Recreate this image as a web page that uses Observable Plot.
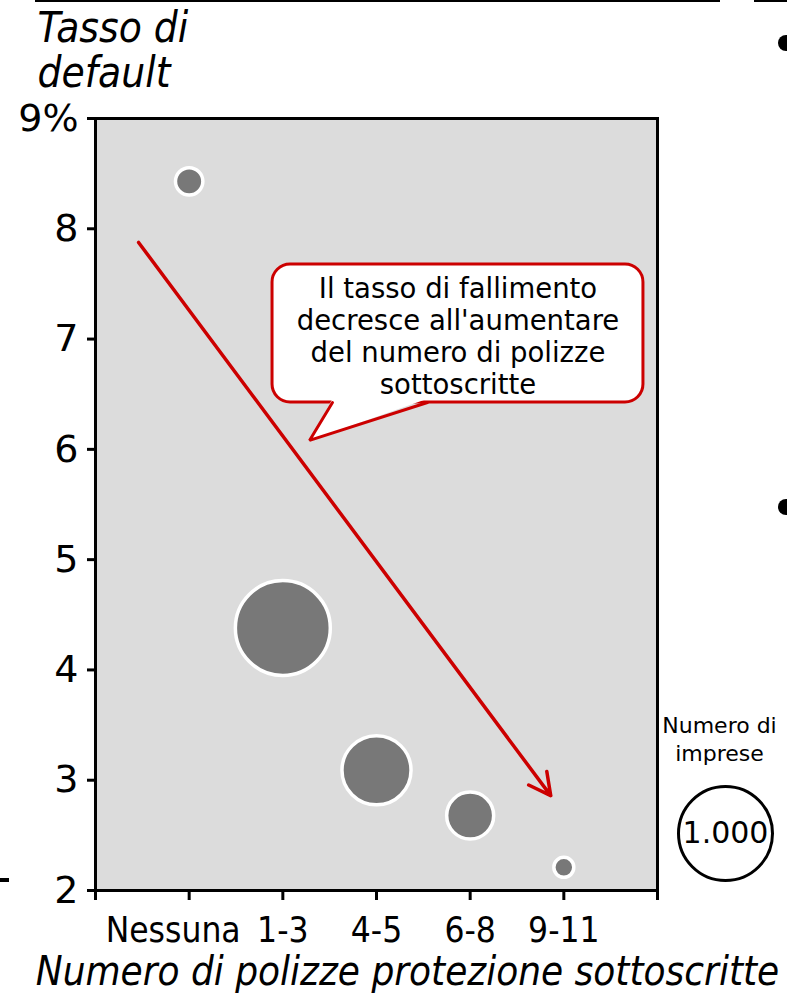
<!DOCTYPE html>
<html lang="it">
<head>
<meta charset="utf-8">
<script src="https://cdn.jsdelivr.net/npm/d3@7"></script>
<script src="https://cdn.jsdelivr.net/npm/@observablehq/plot@0.6"></script>
<style>
  html, body { margin: 0; padding: 0; background: #fff; }
  #page { position: relative; width: 787px; height: 994px; overflow: hidden; }
  #chart { position: absolute; left: 0; top: 0; }
  .rule { position: absolute; top: 0; height: 2px; background: #000; }
  .bullet { position: absolute; width: 16px; height: 16px; border-radius: 50%; background: #000; }
  .dash { position: absolute; left: 0; top: 878px; width: 9px; height: 4px; background: #000; }
  #chart svg g[aria-label="x-axis tick label"] text {
    font-family: "DejaVu Sans Condensed", "DejaVu Sans", sans-serif;
    font-stretch: condensed;
    font-size: 35px;
  }
  #chart svg g[aria-label="y-axis tick label"] text {
    font-family: "DejaVu Sans", sans-serif;
    font-size: 38px;
  }
  #chart svg .cond { font-stretch: condensed; }
</style>
</head>
<body>
<div id="page">
  <div class="rule" style="left:35px; width:685px;"></div>
  <div class="rule" style="left:754px; width:40px;"></div>
  <div class="bullet" style="left:778px; top:35px;"></div>
  <div class="bullet" style="left:778px; top:499px;"></div>
  <div class="dash"></div>
  <div id="chart"></div>
</div>
<script>
// Number of protection policies held, default rate (%) and number of firms
const categories = ["Nessuna", "1-3", "4-5", "6-8", "9-11"];
const defaultRate = [8.43, 4.38, 3.09, 2.68, 2.21];
const firms = [85, 1020, 540, 250, 45];

// Axis ticks
const xTicks = [0, 1, 2, 3, 4, 5, 6];
const yTicks = [2, 3, 4, 5, 6, 7, 8, 9];

// Texts
const yTitle = "Tasso di\ndefault";
const xTitle = "Numero di polizze protezione sottoscritte";
const calloutLines = ["Il tasso di fallimento", "decresce all'aumentare", "del numero di polizze", "sottoscritte"];
const legendTitle = "Numero di\nimprese";
const legendValue = 1000;
const legendLabel = "1.000";

// Trend arrow and speech bubble, in data units (category index, %)
const trend = [{x1: 0.46, y1: 7.876, x2: 4.86, y2: 2.86}];
const callout = {x1: 1.89, x2: 5.85, y1: 6.425, y2: 7.676};
const calloutTailEdge = [[2.53, 6.425], [2.285, 6.081], [3.544, 6.425]];
const calloutTailFill = [[2.53, 6.46], [2.285, 6.081], [3.544, 6.46]];

const rows = categories.map((c, i) => ({idx: i + 1, cat: c, rate: defaultRate[i], n: firms[i]}));

const red = "#cc0000";
const condensed = '"DejaVu Sans Condensed", "DejaVu Sans", sans-serif';

const chart = Plot.plot({
  width: 787,
  height: 994,
  marginLeft: 95,
  marginRight: 130,
  marginTop: 118,
  marginBottom: 104,
  style: {fontFamily: '"DejaVu Sans", sans-serif', background: "transparent", overflow: "visible", color: "#000"},
  x: {domain: [0, 6]},
  y: {domain: [2, 9]},
  r: {type: "sqrt", domain: [0, 1000], range: [0, 47]},
  marks: [
    Plot.frame({fill: "#dcdcdc"}),
    Plot.dot(rows, {x: "idx", y: "rate", r: "n", fill: "#787878", stroke: "white", strokeWidth: 3.5}),
    Plot.arrow(trend, {x1: "x1", y1: "y1", x2: "x2", y2: "y2", stroke: red, strokeWidth: 3.5, headLength: 10.5, headAngle: 55}),
    // speech bubble
    Plot.rect([callout], {x1: "x1", x2: "x2", y1: "y1", y2: "y2", fill: "white", stroke: red, strokeWidth: 3, rx: 18}),
    Plot.line(calloutTailFill, {x: d => d[0], y: d => d[1], fill: "white", stroke: "none"}),
    Plot.line(calloutTailEdge, {x: d => d[0], y: d => d[1], stroke: red, strokeWidth: 3, strokeLinejoin: "miter"}),
    Plot.text([calloutLines.join("\n")], {
      x: (callout.x1 + callout.x2) / 2, y: (callout.y1 + callout.y2) / 2, dy: 2,
      fontSize: 27.5, lineHeight: 1.17, lineAnchor: "middle", textAnchor: "middle", fill: "#000"
    }),
    Plot.frame({stroke: "#000", strokeWidth: 3}),
    Plot.axisY(yTicks, {
      tickSize: 8, tickPadding: 9, strokeWidth: 3, fontSize: 38, label: null,
      tickFormat: d => d === 9 ? "9%" : String(d)
    }),
    Plot.axisX(xTicks, {
      tickSize: 10, tickPadding: 17, strokeWidth: 3, fontSize: 35, label: null,
      tickFormat: i => categories[i - 1] ?? ""
    }),
    // axis titles
    Plot.text([yTitle], {
      frameAnchor: "top-left", dx: -58, dy: -68, textAnchor: "start", lineAnchor: "middle",
      fontSize: 42, lineHeight: 1.07, fontStyle: "italic", fontFamily: condensed, className: "cond"
    }),
    Plot.text([xTitle], {
      frameAnchor: "bottom", dx: 31, dy: 82, textAnchor: "middle", lineAnchor: "middle",
      fontSize: 40, fontStyle: "italic", fontFamily: condensed, className: "cond"
    }),
    // size legend
    Plot.text([legendTitle], {
      frameAnchor: "bottom-right", dx: 62, dy: -152, textAnchor: "middle", lineAnchor: "middle",
      fontSize: 22, lineHeight: 1.27
    }),
    Plot.dot([legendValue], {r: d => d, frameAnchor: "bottom-right", dx: 68, dy: -57, fill: "none", stroke: "#000", strokeWidth: 3}),
    Plot.text([legendLabel], {
      frameAnchor: "bottom-right", dx: 68, dy: -57, textAnchor: "middle", lineAnchor: "middle", fontSize: 30
    })
  ]
});

// the first category label sits a little left of its tick, clear of "1-3"
d3.select(chart).selectAll('g[aria-label="x-axis tick label"] text')
  .filter(function() { return this.textContent === categories[0]; })
  .attr("dx", -16);

document.getElementById("chart").appendChild(chart);
</script>
</body>
</html>
